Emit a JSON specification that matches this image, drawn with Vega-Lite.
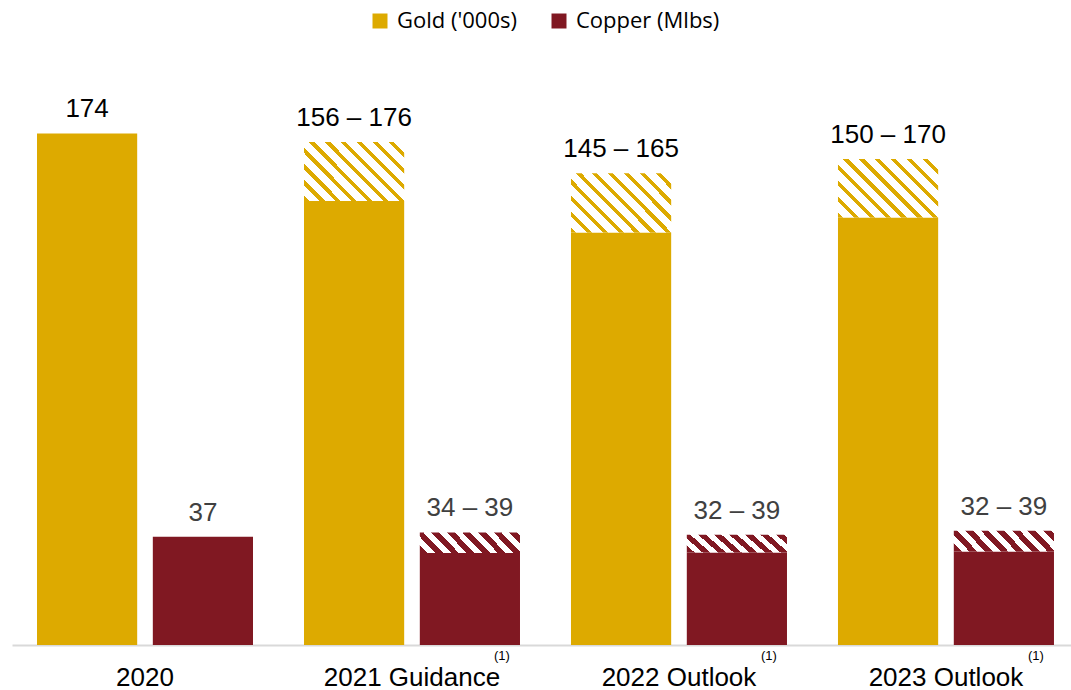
{
  "$schema": "https://vega.github.io/schema/vega-lite/v6.json",
  "autosize": {"type": "none"},
  "padding": {"left": 12, "top": 57, "right": 0, "bottom": 45},
  "width": 1059,
  "height": 588,
  "config": {"view": {"stroke": null}, "font": "Liberation Sans"},
  "data": {
    "values": [
      {"cat": "2020", "kind": "Gold", "metric": "Gold ('000s)", "low": 174, "high": 174, "label": "174"},
      {"cat": "2020", "kind": "Copper", "metric": "Copper (Mlbs)", "low": 36.8, "high": 36.8, "label": "37"},
      {"cat": "2021 Guidance", "kind": "Gold", "metric": "Gold ('000s)", "low": 151, "high": 171.1, "label": "156 – 176"},
      {"cat": "2021 Guidance", "kind": "Copper", "metric": "Copper (Mlbs)", "low": 31.3, "high": 38.3, "label": "34 – 39"},
      {"cat": "2022 Outlook", "kind": "Gold", "metric": "Gold ('000s)", "low": 140.3, "high": 160.5, "label": "145 – 165"},
      {"cat": "2022 Outlook", "kind": "Copper", "metric": "Copper (Mlbs)", "low": 31.5, "high": 37.5, "label": "32 – 39"},
      {"cat": "2023 Outlook", "kind": "Gold", "metric": "Gold ('000s)", "low": 145.4, "high": 165.3, "label": "150 – 170"},
      {"cat": "2023 Outlook", "kind": "Copper", "metric": "Copper (Mlbs)", "low": 31.8, "high": 38.9, "label": "32 – 39"}
    ]
  },
  "encoding": {
    "x": {
      "field": "cat", "type": "nominal",
      "sort": ["2020", "2021 Guidance", "2022 Outlook", "2023 Outlook"],
      "scale": {"paddingInner": 0.191, "paddingOuter": 0.0787, "align": 0.595},
      "axis": {"title": null, "labelAngle": 0, "labelFontSize": 26, "labelColor": "#000000", "labelFont": "Liberation Sans", "ticks": false, "tickSize": 0, "labelPadding": 19, "domainColor": "#D9D9D9", "domainWidth": 2, "grid": false}
    },
    "xOffset": {
      "field": "metric", "type": "nominal",
      "sort": ["Gold ('000s)", "Copper (Mlbs)"],
      "scale": {"paddingInner": 0.135, "paddingOuter": 0}
    }
  },
  "layer": [
    {
      "mark": {"type": "bar"},
      "encoding": {
        "y": {"field": "low", "type": "quantitative", "scale": {"domain": [0, 200]}, "axis": null},
        "color": {
          "field": "metric", "type": "nominal",
          "scale": {"domain": ["Gold ('000s)", "Copper (Mlbs)"], "range": ["#DDAA00", "#801822"]},
          "legend": {"title": null, "orient": "none", "legendX": 357, "legendY": -47, "direction": "horizontal", "symbolType": "square", "symbolSize": 225, "symbolStrokeWidth": 0, "labelFontSize": 22, "labelFont": "Open Sans", "labelColor": "#000000", "labelOffset": 6, "columnPadding": 31, "padding": 0}
        }
      }
    },
    {
      "transform": [{"filter": "datum.high > datum.low && datum.kind == 'Gold'"}],
      "mark": {
        "type": "bar",
        "color": {
          "gradient": "linear", "x1": 0, "y1": 1, "x2": 1.181, "y2": 0.31,
          "stops": [
            {"offset": 0, "color": "#DDAA00"}, {"offset": 0.033, "color": "#DDAA00"}, {"offset": 0.033, "color": "#FFFFFF"}, {"offset": 0.1, "color": "#FFFFFF"},
            {"offset": 0.1, "color": "#DDAA00"}, {"offset": 0.133, "color": "#DDAA00"}, {"offset": 0.133, "color": "#FFFFFF"}, {"offset": 0.2, "color": "#FFFFFF"},
            {"offset": 0.2, "color": "#DDAA00"}, {"offset": 0.233, "color": "#DDAA00"}, {"offset": 0.233, "color": "#FFFFFF"}, {"offset": 0.3, "color": "#FFFFFF"},
            {"offset": 0.3, "color": "#DDAA00"}, {"offset": 0.333, "color": "#DDAA00"}, {"offset": 0.333, "color": "#FFFFFF"}, {"offset": 0.4, "color": "#FFFFFF"},
            {"offset": 0.4, "color": "#DDAA00"}, {"offset": 0.433, "color": "#DDAA00"}, {"offset": 0.433, "color": "#FFFFFF"}, {"offset": 0.5, "color": "#FFFFFF"},
            {"offset": 0.5, "color": "#DDAA00"}, {"offset": 0.533, "color": "#DDAA00"}, {"offset": 0.533, "color": "#FFFFFF"}, {"offset": 0.6, "color": "#FFFFFF"},
            {"offset": 0.6, "color": "#DDAA00"}, {"offset": 0.633, "color": "#DDAA00"}, {"offset": 0.633, "color": "#FFFFFF"}, {"offset": 0.7, "color": "#FFFFFF"},
            {"offset": 0.7, "color": "#DDAA00"}, {"offset": 0.733, "color": "#DDAA00"}, {"offset": 0.733, "color": "#FFFFFF"}, {"offset": 0.8, "color": "#FFFFFF"},
            {"offset": 0.8, "color": "#DDAA00"}, {"offset": 0.833, "color": "#DDAA00"}, {"offset": 0.833, "color": "#FFFFFF"}, {"offset": 0.9, "color": "#FFFFFF"},
            {"offset": 0.9, "color": "#DDAA00"}, {"offset": 0.933, "color": "#DDAA00"}, {"offset": 0.933, "color": "#FFFFFF"}, {"offset": 1, "color": "#FFFFFF"}
          ]
        }
      },
      "encoding": {
        "y": {"field": "low", "type": "quantitative", "scale": {"domain": [0, 200]}, "axis": null},
        "y2": {"field": "high"}
      }
    },
    {
      "transform": [{"filter": "datum.high > datum.low && datum.kind == 'Copper'"}],
      "mark": {
        "type": "bar",
        "color": {
          "gradient": "linear", "x1": 0, "y1": 1, "x2": 1.153, "y2": 0.772,
          "stops": [
            {"offset": 0, "color": "#801822"}, {"offset": 0.065, "color": "#801822"}, {"offset": 0.065, "color": "#FFFFFF"}, {"offset": 0.13, "color": "#FFFFFF"},
            {"offset": 0.13, "color": "#801822"}, {"offset": 0.195, "color": "#801822"}, {"offset": 0.195, "color": "#FFFFFF"}, {"offset": 0.26, "color": "#FFFFFF"},
            {"offset": 0.26, "color": "#801822"}, {"offset": 0.325, "color": "#801822"}, {"offset": 0.325, "color": "#FFFFFF"}, {"offset": 0.39, "color": "#FFFFFF"},
            {"offset": 0.39, "color": "#801822"}, {"offset": 0.455, "color": "#801822"}, {"offset": 0.455, "color": "#FFFFFF"}, {"offset": 0.52, "color": "#FFFFFF"},
            {"offset": 0.52, "color": "#801822"}, {"offset": 0.585, "color": "#801822"}, {"offset": 0.585, "color": "#FFFFFF"}, {"offset": 0.65, "color": "#FFFFFF"},
            {"offset": 0.65, "color": "#801822"}, {"offset": 0.715, "color": "#801822"}, {"offset": 0.715, "color": "#FFFFFF"}, {"offset": 0.78, "color": "#FFFFFF"},
            {"offset": 0.78, "color": "#801822"}, {"offset": 0.845, "color": "#801822"}, {"offset": 0.845, "color": "#FFFFFF"}, {"offset": 0.91, "color": "#FFFFFF"},
            {"offset": 0.91, "color": "#801822"}, {"offset": 0.975, "color": "#801822"}, {"offset": 0.975, "color": "#FFFFFF"}, {"offset": 1, "color": "#FFFFFF"}
          ]
        }
      },
      "encoding": {
        "y": {"field": "low", "type": "quantitative", "scale": {"domain": [0, 200]}, "axis": null},
        "y2": {"field": "high"}
      }
    },
    {
      "mark": {"type": "text", "fontSize": 26, "baseline": "alphabetic", "dy": -16, "font": "Liberation Sans"},
      "encoding": {
        "y": {"field": "high", "type": "quantitative", "scale": {"domain": [0, 200]}, "axis": null},
        "text": {"field": "label"},
        "color": {"condition": {"test": "datum.kind == 'Gold'", "value": "#000000"}, "value": "#404040"}
      }
    },
    {
      "data": {"values": [
        {"cat": "2021 Guidance", "note": "(1)"},
        {"cat": "2022 Outlook", "note": "(1)"},
        {"cat": "2023 Outlook", "note": "(1)"}
      ]},
      "mark": {"type": "text", "fontSize": 13, "dx": 32, "dy": 11, "baseline": "middle", "color": "#000000", "font": "Liberation Sans"},
      "encoding": {
        "xOffset": {"datum": "Copper (Mlbs)"},
        "y": {"datum": 0, "type": "quantitative"},
        "text": {"field": "note"}
      }
    }
  ]
}
